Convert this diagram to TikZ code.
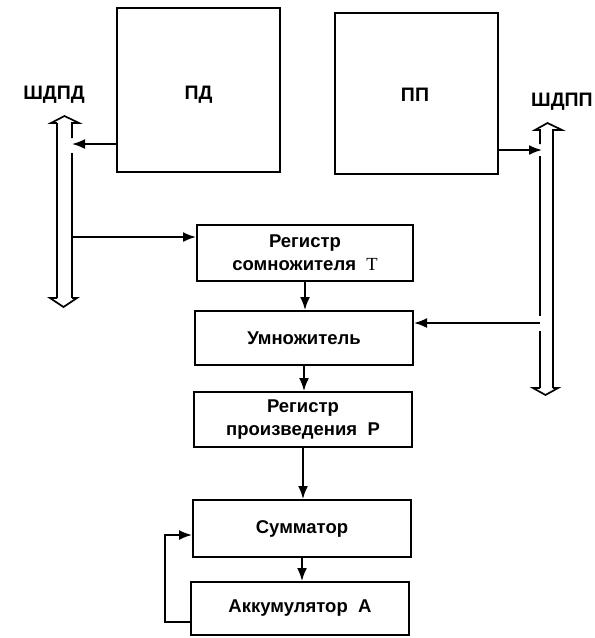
\documentclass[tikz,border=0pt]{standalone}
\usepackage{fontspec}
\setmainfont{Liberation Sans}
\newfontfamily\serifT{Liberation Serif}
\usetikzlibrary{arrows.meta}
\begin{document}
\begin{tikzpicture}[x=1pt,y=-1pt,
  blk/.style={draw,line width=2pt,inner sep=0pt,align=center,
              font=\bfseries\fontsize{18.5}{23}\selectfont},
  unit/.style={draw,line width=2pt,inner sep=0pt},
  lbl/.style={font=\bfseries\fontsize{19.5}{23}\selectfont},
  arr/.style={line width=1.8pt,-{Latex[length=13pt,width=10pt]}},
  bus/.style={line width=1.7pt,line join=miter}]
\useasboundingbox (0,0) rectangle (595,638);

% memory blocks and their names
\node[unit,minimum width=163,minimum height=164] (PD) at (198.5,90) {};
\node[unit,minimum width=163,minimum height=161] (PP) at (416.5,93.5) {};
\node[lbl] (tPD) at (198.5,95) {ПД};
\node[lbl] (tPP) at (415,95) {ПП};

% processing chain
\node[blk,minimum width=216,minimum height=56] (RT)  at (305,253)
  {Регистр\\сомножителя\ \ {\mdseries\serifT T}};
\node[blk,minimum width=218,minimum height=54] (MUL) at (304,338) {Умножитель};
\node[blk,minimum width=218,minimum height=55] (RP)  at (303,419.5)
  {Регистр\\произведения\ \ P};
\node[blk,minimum width=218,minimum height=57] (SUM) at (302,528.5) {Сумматор};
\node[blk,minimum width=218,minimum height=53] (ACC) at (300,608.5) {Аккумулятор\ \ A};

% bus labels
\node[lbl] (lbPD) at (54,95) {ШДПД};
\node[lbl] (lbPP) at (562,102) {ШДПП};

% left data bus (hollow double arrow)
\draw[bus] (57,123) -- (51,123) -- (64.5,116) -- (79,123) -- (72,123) -- (72,138);
\draw[bus] (57,123) -- (57,298);
\draw[bus] (72,153) -- (72,298);
\draw[bus] (57,298) -- (50,298) -- (63.5,307) -- (77,298) -- (72,298);

% right data bus (hollow double arrow)
\draw[bus] (540,144) -- (540,130) -- (535,130) -- (547.5,123) -- (562,130) -- (553,130) -- (553,388);
\draw[bus] (540,156) -- (540,316);
\draw[bus] (540,331) -- (540,388);
\draw[bus] (540,388) -- (533,388) -- (545.5,395) -- (558,388) -- (553,388);

% bus ports
\coordinate (pdIn)  at (72,144);
\coordinate (ltOut) at (72,237);
\coordinate (ppIn)  at (542,150);
\coordinate (rtOut) at (540,323);

% connections
\draw[arr] (PD.west |- pdIn) -- (pdIn);
\draw[arr] (PP.east |- ppIn) -- (ppIn);
\draw[arr] (ltOut) -- (RT.west |- ltOut);
\draw[arr] (rtOut) -- (MUL.east |- rtOut);
\draw[arr] (RT.south) -- (RT.south |- MUL.north);
\draw[arr] (MUL.south) -- (MUL.south |- RP.north);
\draw[arr] (RP.south) -- (RP.south |- SUM.north);
\draw[arr] (SUM.south) -- (SUM.south |- ACC.north);

% accumulator feedback
\coordinate (fbA) at (165,622);
\coordinate (fbB) at (165,535);
\draw[arr,line join=miter] (ACC.west |- fbA) -- (fbA) -- (fbB) -- (SUM.west |- fbB);
\end{tikzpicture}
\end{document}
